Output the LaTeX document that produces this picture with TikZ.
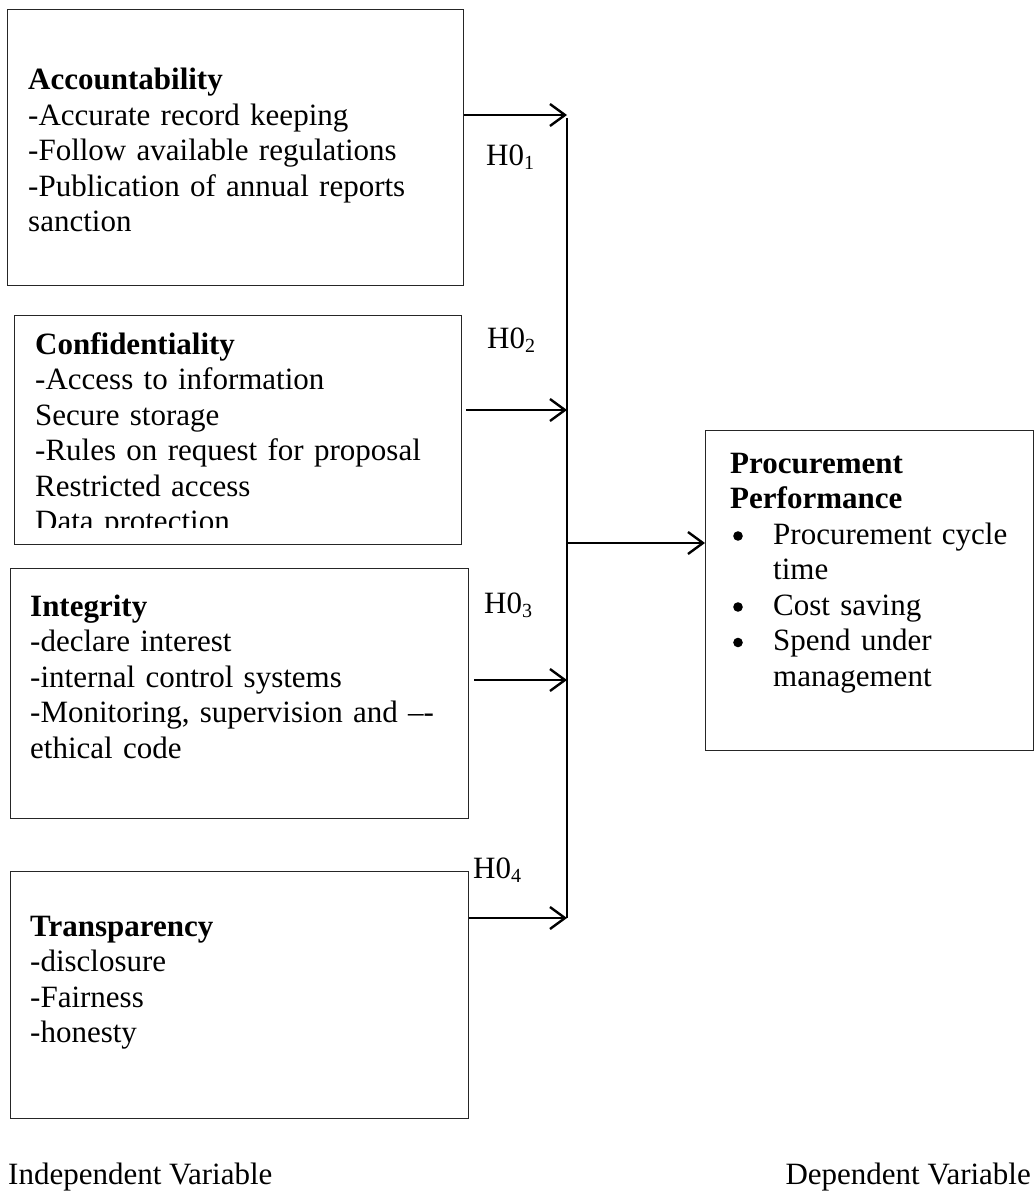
\documentclass[tikz,border=0pt]{standalone}
\usepackage{fontspec}
\setmainfont{Liberation Serif}
\usetikzlibrary{arrows.meta}
\newcommand\mybul{\tikz[baseline=0pt]\fill (4.8pt,8pt) circle (4.8pt);}
\newcommand\hsub[1]{\raisebox{-4pt}{\fontsize{20}{20}\selectfont #1}}
\begin{document}
\begin{tikzpicture}[x=1pt,y=-1pt,
  box/.style={draw=black!85, line width=1.3pt, rectangle, inner sep=0pt, anchor=north west},
  txt/.style={anchor=base west, inner sep=0pt, text width=430pt, align=left, font=\fontsize{31}{35.5}\selectfont},
  lab/.style={anchor=base west, inner sep=0pt, font=\fontsize{31}{35.5}\selectfont},
  arr/.style={line width=2pt, -{Straight Barb[length=15pt,width=22pt,line width=2.4pt]}},
  bus/.style={line width=2pt}]
\useasboundingbox (0,0) rectangle (1035,1198);

% boxes
\node[box, minimum width=456pt, minimum height=276pt] (acc) at (7,9) {};
\node[box, minimum width=447pt, minimum height=229pt] (con) at (14,315) {};
\node[box, minimum width=458pt, minimum height=250pt] (int) at (10,568) {};
\node[box, minimum width=458pt, minimum height=247pt] (tra) at (10,871) {};
\node[box, minimum width=328pt, minimum height=320pt] (perf) at (705,430) {};

% texts
\node[txt] (acct) at (28,90) {\textbf{Accountability}\\-Accurate record keeping\\-Follow available regulations\\-Publication of annual reports\\sanction};
\begin{scope}
\clip (14,315) rectangle (461,527);
\node[txt] (cont) at (35,354) {\textbf{Confidentiality}\\-Access to information\\Secure storage\\-Rules on request for proposal\\Restricted access\\Data protection};
\end{scope}
\node[txt] (intt) at (30,616) {\textbf{Integrity}\\-declare interest\\-internal control systems\\-Monitoring, supervision and –-\\ethical code};
\node[txt] (trat) at (30,936) {\textbf{Transparency}\\-disclosure\\-Fairness\\-honesty};
\node[txt, text width=300pt] (perft) at (730,473) {\textbf{Procurement}\\\textbf{Performance}\\\hspace*{3pt}\makebox[40pt][l]{\mybul}Procurement cycle\\\hspace*{43pt}time\\\hspace*{3pt}\makebox[40pt][l]{\mybul}Cost saving\\\hspace*{3pt}\makebox[40pt][l]{\mybul}Spend under\\\hspace*{43pt}management};

% hypothesis labels
\node[lab] (h1) at (486,166) {H0\hsub{1}};
\node[lab] (h2) at (487,348) {H0\hsub{2}};
\node[lab] (h3) at (484,613) {H0\hsub{3}};
\node[lab] (h4) at (473,878) {H0\hsub{4}};

% bus coordinates
\coordinate (j1) at (567,115);
\coordinate (j2) at (567,410);
\coordinate (j3) at (567,680);
\coordinate (j4) at (567,918);
\coordinate (jt) at (567,118);
\coordinate (jo) at (568,543);

% connectors
\draw[arr] (acc.east |- j1) -- (j1);
\draw[arr] ([xshift=4pt]con.east |- j2) -- (j2);
\draw[arr] ([xshift=5pt]int.east |- j3) -- (j3);
\draw[arr] (tra.east |- j4) -- (j4);
\draw[bus] (jt) -- (j4);
\draw[arr] (jo) -- (perf.west |- jo);

% footer labels
\node[lab] (iv) at (8,1184) {Independent Variable};
\node[lab, anchor=base east] (dv) at (1031,1184) {Dependent Variable};
\end{tikzpicture}
\end{document}
